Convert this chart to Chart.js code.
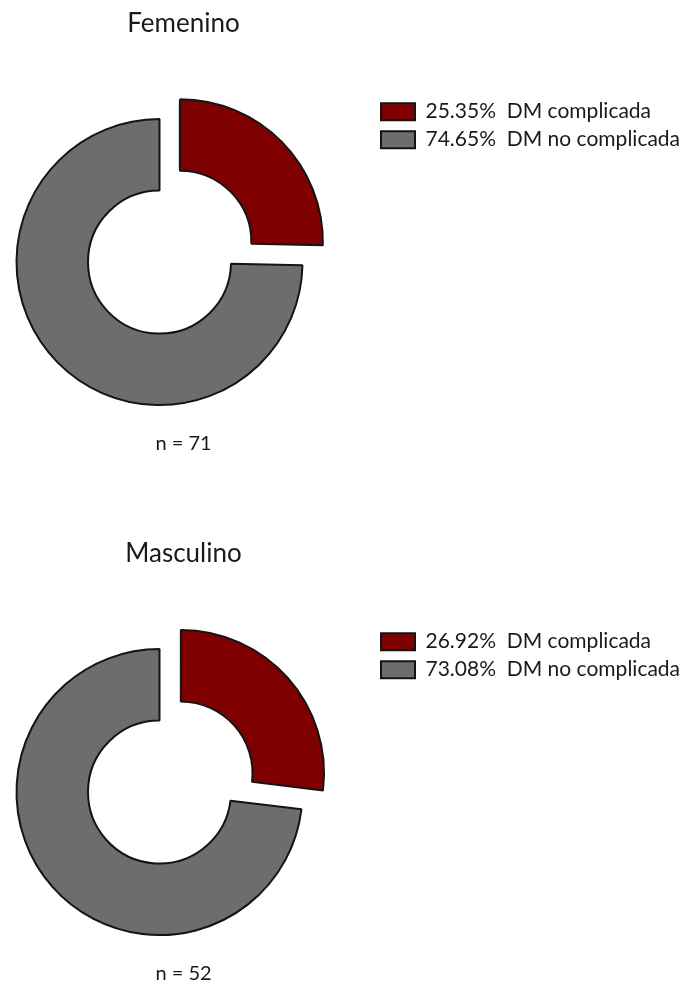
<!DOCTYPE html>
<html>
<head>
<meta charset="utf-8">
<script src="https://cdn.jsdelivr.net/npm/chart.js@4.4.1/dist/chart.umd.min.js"></script>
<style>
  html, body { margin: 0; padding: 0; background: #ffffff; width: 691px; height: 985px; overflow: hidden; position: relative; }
  .panel { position: absolute; left: -55px; width: 746px; height: 460px; }
  #p1 { top: 0px; }
  #p2 { top: 530px; }
  canvas { display: block; }
</style>
</head>
<body>
<div class="panel" id="p1"><canvas id="c1" width="746" height="460"></canvas></div>
<div class="panel" id="p2"><canvas id="c2" width="746" height="460"></canvas></div>
<script>
// ---- data ----
const categories = ['DM complicada', 'DM no complicada'];
const femeninoPct = [25.35, 74.65];
const masculinoPct = [26.92, 73.08];
const panelTitles = ['Femenino', 'Masculino'];
const sampleSizes = [71, 52];
const sliceColors = ['#7f0000', '#6d6d6d'];

Chart.defaults.font.family = 'Lato, "Open Sans", sans-serif';
Chart.defaults.color = '#1a1a1a';

// the legend box is kept narrow for layout; let its labels run on to the canvas edge
const legendUnclip = {
  id: 'legendUnclip',
  afterLayout(chart) {
    if (chart.legend) {
      chart.legend.right = chart.width;
      chart.legend.width = chart.legend.right - chart.legend.left;
    }
  }
};

function makeChart(canvasId, title, pct, n) {
  return new Chart(document.getElementById(canvasId), {
    type: 'doughnut',
    data: {
      labels: categories,
      datasets: [{
        data: pct,
        backgroundColor: sliceColors,
        borderColor: '#141414',
        borderWidth: 2,
        offset: [114, 0],
        hoverOffset: 0
      }]
    },
    plugins: [legendUnclip],
    options: {
      responsive: false,
      animation: false,
      events: [],
      radius: 143,
      cutout: '50%',
      layout: { padding: { left: 0, right: 269, top: 0, bottom: 0 } },
      plugins: {
        title: {
          display: true,
          text: title,
          fullSize: true,
          color: '#1a1a1a',
          font: { size: 26, weight: 'normal', lineHeight: 1.2 },
          padding: { top: 8, bottom: 55 }
        },
        subtitle: {
          display: true,
          position: 'bottom',
          text: 'n = ' + n,
          fullSize: true,
          color: '#1a1a1a',
          font: { size: 20, weight: 'normal', lineHeight: 1.2 },
          padding: { top: 2, bottom: 4 }
        },
        legend: {
          display: true,
          position: 'right',
          align: 'start',
          fullSize: false,
          maxWidth: 48,
          labels: {
            boxWidth: 34,
            boxHeight: 17,
            padding: 7,
            color: '#1a1a1a',
            font: { size: 21 },
            generateLabels(chart) {
              const items = Chart.overrides.doughnut.plugins.legend.labels.generateLabels(chart);
              items.forEach((it, i) => { it.text = pct[i].toFixed(2) + '%  ' + categories[i]; });
              return items;
            }
          }
        },
        tooltip: { enabled: false }
      }
    }
  });
}

makeChart('c1', panelTitles[0], femeninoPct, sampleSizes[0]);
makeChart('c2', panelTitles[1], masculinoPct, sampleSizes[1]);
</script>
</body>
</html>
